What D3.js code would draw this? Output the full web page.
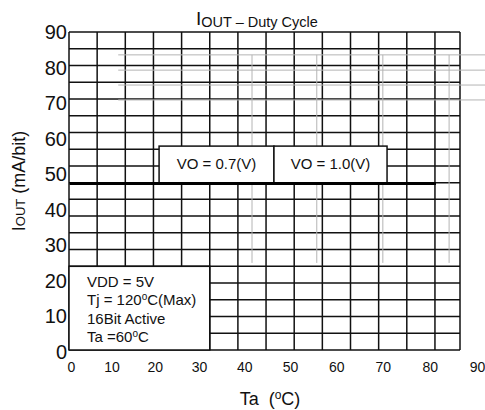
<!DOCTYPE html>
<meta charset="utf-8">
<script src="https://d3js.org/d3.v7.min.js"></script>
<style>
  body { margin: 0; background: #fff; }
  text { font-family: "Liberation Sans", Arial, sans-serif; fill: #111; }
</style>
<div id="chart"></div>
<script>

// data
var taTicks = [0, 10, 20, 30, 40, 50, 60, 70, 80, 90];
var ioutTicks = [0, 10, 20, 30, 40, 50, 60, 70, 80, 90];
var ta = [0, 81];
var iout = [47.5, 47.5];

// faint traces left on the sheet
var grayRows = [83.7, 79.4, 75.2, 71.0];
var grayRowSpan = [11.6, 92];
var grayCols = [41.7, 55.8, 70.0, 84.1];
var grayColSpan = [25.1, 83.7];

// annotations
var voLabels = ["VO = 0.7(V)", "VO = 1.0(V)"];
var voEdges = [21, 46.5, 70.9];
var voTop = 58;
var notes = ["VDD = 5V", "Tj = 120ºC(Max)", "16Bit Active", "Ta =60ºC"];

var W = 485, H = 410;
var frame = {left: 69, top: 32, right: 460, bottom: 350};

var svg = d3.select("#chart")
  .append("svg")
    .attr("width", W)
    .attr("height", H);

// axis scales (the x labels on the sheet are slightly stretched)
var x = d3.scalePow().exponent(1.05).domain([0, 90]).range([71, 477]);
var y = d3.scaleLinear().domain([0, 90]).range([352, 32.5]);

// paper grid: 19 rows, columns of equal width
var gx = d3.scaleLinear().domain([0, 14]).range([frame.left, frame.left + 14 * 28.15]);
var gy = d3.scaleLinear().domain([0, 19]).range([frame.bottom, frame.top]);

var grid = svg.append("g").attr("stroke", "#111").attr("stroke-width", 1.5);

grid.selectAll(".row")
  .data(d3.range(0, 20))
  .enter().append("line")
    .attr("x1", frame.left).attr("x2", frame.right)
    .attr("y1", function(d) { return gy(d); })
    .attr("y2", function(d) { return gy(d); });

grid.selectAll(".col")
  .data(d3.range(0, 14))
  .enter().append("line")
    .attr("x1", function(d) { return gx(d); })
    .attr("x2", function(d) { return gx(d); })
    .attr("y1", frame.top).attr("y2", frame.bottom);

grid.append("line")
  .attr("x1", frame.right).attr("x2", frame.right)
  .attr("y1", frame.top).attr("y2", frame.bottom);

// gray traces
var gray = svg.append("g").attr("stroke", "#b4b4b4").attr("stroke-width", 1);
gray.selectAll(".gh")
  .data(grayRows)
  .enter().append("line")
    .attr("x1", x(grayRowSpan[0])).attr("x2", x(grayRowSpan[1]))
    .attr("y1", function(d) { return y(d); })
    .attr("y2", function(d) { return y(d); });
gray.selectAll(".gv")
  .data(grayCols)
  .enter().append("line")
    .attr("x1", function(d) { return x(d); })
    .attr("x2", function(d) { return x(d); })
    .attr("y1", y(grayColSpan[1])).attr("y2", y(grayColSpan[0]));

// VO boxes
voLabels.forEach(function(label, i) {
  var x0 = x(voEdges[i]), x1 = x(voEdges[i + 1]);
  svg.append("rect")
    .attr("x", x0).attr("y", y(voTop))
    .attr("width", x1 - x0).attr("height", y(iout[0]) - y(voTop))
    .attr("fill", "#fff").attr("stroke", "#111").attr("stroke-width", 1.5);
  svg.append("text")
    .attr("x", (x0 + x1) / 2).attr("y", 169)
    .attr("text-anchor", "middle")
    .attr("font-size", 15)
    .text(label);
});

// the curve
var line = d3.line()
  .x(function(d) { return x(d[0]); })
  .y(function(d) { return y(d[1]); });
svg.append("path")
  .datum(d3.zip(ta, iout))
  .attr("d", line)
  .attr("fill", "none")
  .attr("stroke", "#000")
  .attr("stroke-width", 3)
  .attr("stroke-linecap", "square");

// text with a raised small "o" for the degree sign
function degText(sel, str, small, rise) {
  var parts = str.split("º");
  parts.forEach(function(p, i) {
    if (i > 0) {
      sel.append("tspan").attr("font-size", small).attr("dy", -rise).text("o");
      sel.append("tspan").attr("dy", rise).text(p);
    } else {
      sel.append("tspan").text(p);
    }
  });
}

// conditions box
svg.append("rect")
  .attr("x", gx(0)).attr("y", gy(5))
  .attr("width", gx(5) - gx(0)).attr("height", gy(0) - gy(5))
  .attr("fill", "#fff").attr("stroke", "#111").attr("stroke-width", 1.5);

notes.forEach(function(n, i) {
  var t = svg.append("text")
    .attr("x", 87).attr("y", 287 + i * 18.3)
    .attr("font-size", 15);
  degText(t, n, 10, 5);
});

// axes
var yAxis = svg.append("g")
  .attr("transform", "translate(" + frame.left + ",0)")
  .call(d3.axisLeft(y).tickValues(ioutTicks).tickSize(0).tickPadding(2));
yAxis.select(".domain").remove();
yAxis.selectAll("text").attr("font-size", 20).attr("font-family", null);

var xAxis = svg.append("g")
  .attr("transform", "translate(0," + frame.bottom + ")")
  .call(d3.axisBottom(x).tickValues(taTicks).tickSize(0).tickPadding(12));
xAxis.select(".domain").remove();
xAxis.selectAll("text").attr("font-size", 14).attr("font-family", null);

// titles
var title = svg.append("text").attr("x", 196).attr("y", 27);
title.append("tspan").attr("font-size", 19).attr("dy", -2).text("I");
title.append("tspan").attr("font-size", 14.5).attr("dy", 2).text("OUT – Duty Cycle");

var xt = svg.append("text")
  .attr("x", 270).attr("y", 405)
  .attr("text-anchor", "middle")
  .attr("font-size", 18);
degText(xt, "Ta\u00a0\u00a0(ºC)", 12, 6);

var yt = svg.append("text")
  .attr("transform", "translate(25,181) rotate(-90)")
  .attr("text-anchor", "middle")
  .attr("font-size", 18);
yt.append("tspan").text("I");
yt.append("tspan").attr("font-size", 13).text("OUT");
yt.append("tspan").text("\u00a0(mA/bit)");

</script>
